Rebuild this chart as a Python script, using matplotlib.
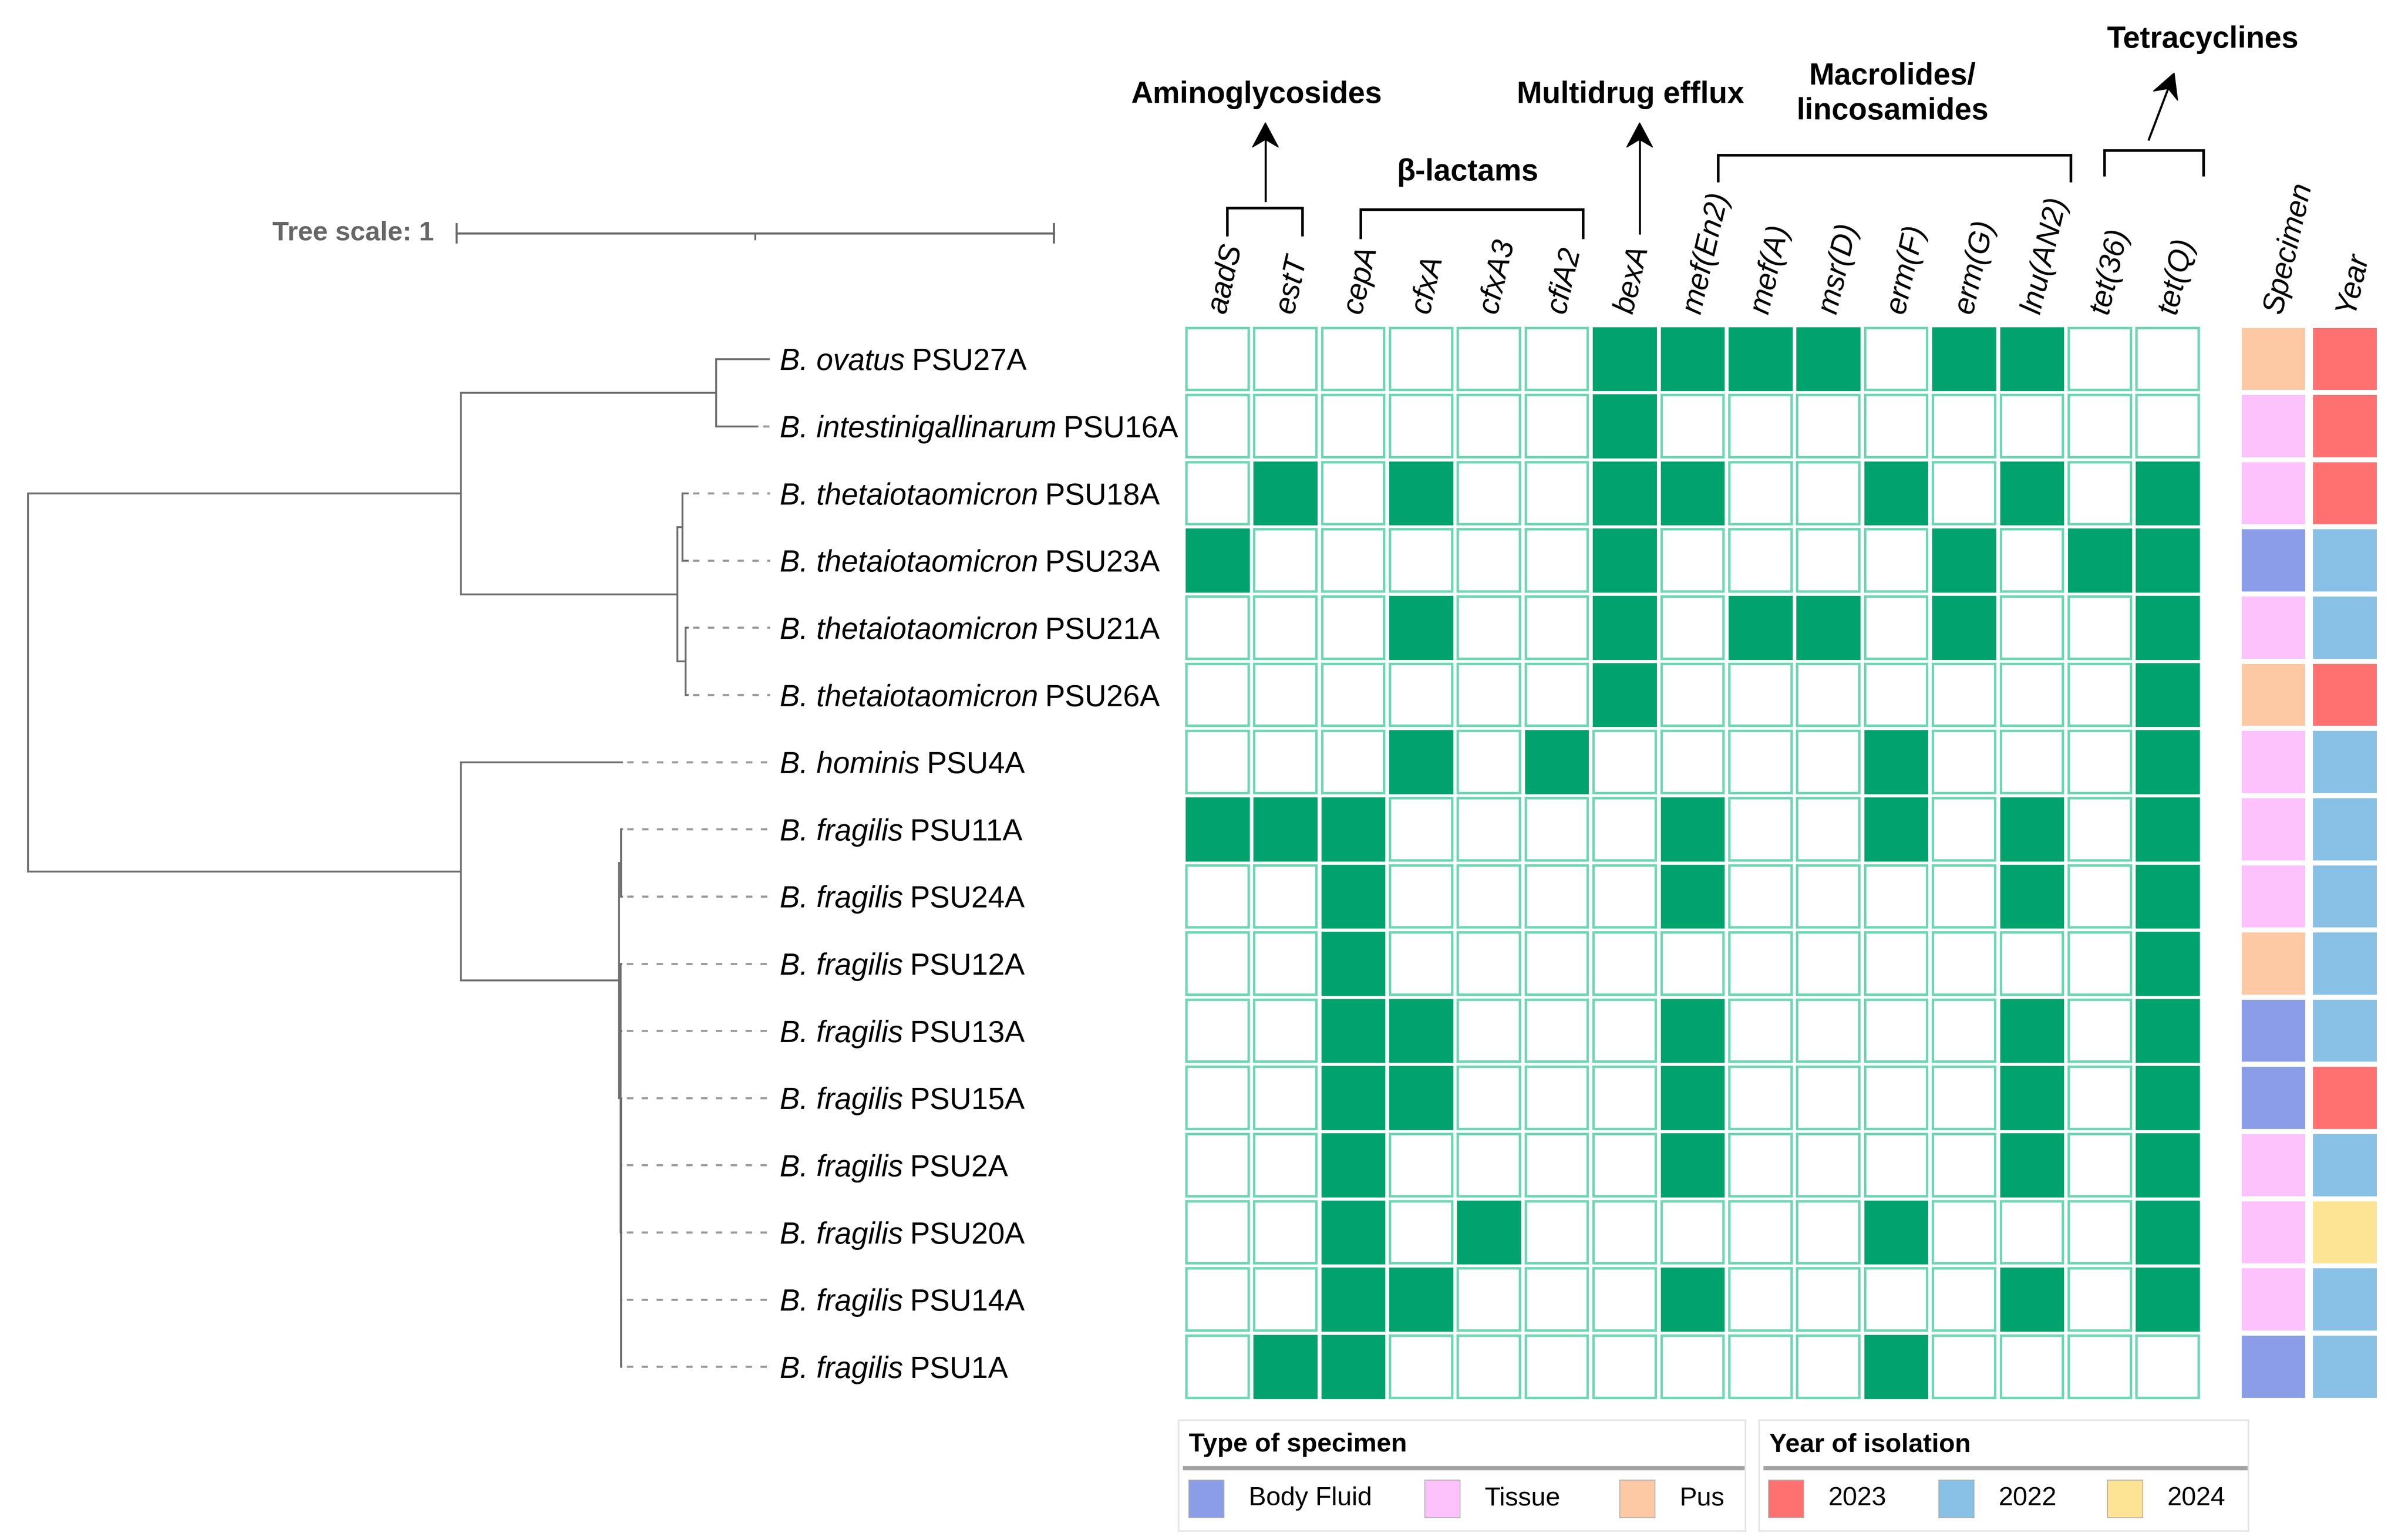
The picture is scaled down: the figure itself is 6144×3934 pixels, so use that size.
import math
import matplotlib
matplotlib.use('Agg')
import matplotlib.pyplot as plt
from matplotlib.patches import Rectangle, Polygon

plt.rcParams['font.family'] = ['Liberation Sans', 'DejaVu Sans']

# ---- data -----------------------------------------------------------------
genes = ['aadS', 'estT', 'cepA', 'cfxA', 'cfxA3', 'cfiA2', 'bexA', 'mef(En2)',
         'mef(A)', 'msr(D)', 'erm(F)', 'erm(G)', 'lnu(AN2)', 'tet(36)', 'tet(Q)']

strains = ['PSU27A', 'PSU16A', 'PSU18A', 'PSU23A', 'PSU21A', 'PSU26A', 'PSU4A',
           'PSU11A', 'PSU24A', 'PSU12A', 'PSU13A', 'PSU15A', 'PSU2A', 'PSU20A',
           'PSU14A', 'PSU1A']
species = ['B. ovatus', 'B. intestinigallinarum', 'B. thetaiotaomicron',
           'B. thetaiotaomicron', 'B. thetaiotaomicron', 'B. thetaiotaomicron',
           'B. hominis', 'B. fragilis', 'B. fragilis', 'B. fragilis', 'B. fragilis',
           'B. fragilis', 'B. fragilis', 'B. fragilis', 'B. fragilis', 'B. fragilis']

# gene presence, rows follow strains, columns follow genes
presence = [
    [0, 0, 0, 0, 0, 0, 1, 1, 1, 1, 0, 1, 1, 0, 0],
    [0, 0, 0, 0, 0, 0, 1, 0, 0, 0, 0, 0, 0, 0, 0],
    [0, 1, 0, 1, 0, 0, 1, 1, 0, 0, 1, 0, 1, 0, 1],
    [1, 0, 0, 0, 0, 0, 1, 0, 0, 0, 0, 1, 0, 1, 1],
    [0, 0, 0, 1, 0, 0, 1, 0, 1, 1, 0, 1, 0, 0, 1],
    [0, 0, 0, 0, 0, 0, 1, 0, 0, 0, 0, 0, 0, 0, 1],
    [0, 0, 0, 1, 0, 1, 0, 0, 0, 0, 1, 0, 0, 0, 1],
    [1, 1, 1, 0, 0, 0, 0, 1, 0, 0, 1, 0, 1, 0, 1],
    [0, 0, 1, 0, 0, 0, 0, 1, 0, 0, 0, 0, 1, 0, 1],
    [0, 0, 1, 0, 0, 0, 0, 0, 0, 0, 0, 0, 0, 0, 1],
    [0, 0, 1, 1, 0, 0, 0, 1, 0, 0, 0, 0, 1, 0, 1],
    [0, 0, 1, 1, 0, 0, 0, 1, 0, 0, 0, 0, 1, 0, 1],
    [0, 0, 1, 0, 0, 0, 0, 1, 0, 0, 0, 0, 1, 0, 1],
    [0, 0, 1, 0, 1, 0, 0, 0, 0, 0, 1, 0, 0, 0, 1],
    [0, 0, 1, 1, 0, 0, 0, 1, 0, 0, 0, 0, 1, 0, 1],
    [0, 1, 1, 0, 0, 0, 0, 0, 0, 0, 1, 0, 0, 0, 0],
]

specimen = ['Pus', 'Tissue', 'Tissue', 'Body Fluid', 'Tissue', 'Pus', 'Tissue',
            'Tissue', 'Tissue', 'Pus', 'Body Fluid', 'Body Fluid', 'Tissue',
            'Tissue', 'Tissue', 'Body Fluid']
year = ['2023', '2023', '2023', '2022', '2022', '2023', '2022', '2022', '2022',
        '2022', '2022', '2023', '2022', '2024', '2022', '2022']

specimen_types = ['Body Fluid', 'Tissue', 'Pus']
specimen_colors = ['#8a9de6', '#fdc1fb', '#fdc9a4']
years = ['2023', '2022', '2024']
year_colors = ['#ff7171', '#89c0e6', '#fde394']

# drug classes: (label, first gene, last gene)
drug_groups = [('Aminoglycosides', 'aadS', 'estT'),
               ('β-lactams', 'cepA', 'cfiA2'),
               ('Multidrug efflux', 'bexA', 'bexA'),
               ('Macrolides/\nlincosamides', 'mef(En2)', 'lnu(AN2)'),
               ('Tetracyclines', 'tet(36)', 'tet(Q)')]

# tree as (children or leaf, branch length)
tree = ([
    ([
        ([('PSU27A', 0.090), ('PSU16A', 0.071)], 0.427),
        ([
            ([('PSU18A', 0.010), ('PSU23A', 0.010)], 0.009),
            ([('PSU21A', 0.005), ('PSU26A', 0.005)], 0.014),
        ], 0.362),
    ], 0.725),
    ([
        ('PSU4A', 0.271),
        ([
            ([('PSU11A', 0.003), ('PSU24A', 0.003)], 0.003),
            ([
                ('PSU12A', 0.003),
                ('PSU13A', 0.003),
                ([('PSU15A', 0.002), ('PSU2A', 0.002), ('PSU20A', 0.002),
                  ('PSU14A', 0.002), ('PSU1A', 0.002)], 0.001),
            ], 0.002),
        ], 0.265),
    ], 0.725),
], 0.0)

# ---- layout (units: pixels of a 1568 wide canvas) -----------------------------
W, H = 1568, 1568 * 3934 / 6144
ROOT_X = 18.0
UNIT = 389.5          # pixels per tree unit
ALIGN_X = 502
LABEL_X = 508.5
ROW0, ROW_STEP, CELL_H = 234.0, 43.8, 40.5
COL0, COL_STEP, CELL_W = 773.5, 44.25, 40.5
META_X = [1461.5, 1508]
META_W = 41.5

GREEN = '#00a36d'
EDGE = '#6dd6b4'
TREE_C = '#6e6e6e'


def row_y(i):
    return ROW0 + i * ROW_STEP


def col_x(j):
    return COL0 + j * COL_STEP


fig = plt.figure(figsize=(6144 / 300, 3934 / 300), dpi=300)
ax = fig.add_axes([0, 0, 1, 1])
ax.set_xlim(0, W)
ax.set_ylim(H, 0)
ax.axis('off')


def arrow(start, tip, head_len=16, half_w=8.5, notch=11):
    # thin shaft with a notched (stealth) head
    dx, dy = tip[0] - start[0], tip[1] - start[1]
    L = math.hypot(dx, dy)
    ux, uy = dx / L, dy / L
    px, py = -uy, ux
    bx, by = tip[0] - ux * head_len, tip[1] - uy * head_len
    nx, ny = tip[0] - ux * notch, tip[1] - uy * notch
    ax.plot([start[0], nx], [start[1], ny], color='black', lw=1.3)
    ax.add_patch(Polygon([tip, (bx + px * half_w, by + py * half_w), (nx, ny),
                          (bx - px * half_w, by - py * half_w)],
                         closed=True, facecolor='black', edgecolor='black', lw=0.5))


# ---- tree ------------------------------------------------------------------
leaf_x = {}


def draw_node(node, x0):
    kids, bl = node
    x = x0 + bl * UNIT
    if isinstance(kids, str):
        y = row_y(strains.index(kids))
        ax.plot([x0, x], [y, y], color=TREE_C, lw=1.15, solid_capstyle='butt')
        leaf_x[kids] = x
        return y
    ys = [draw_node(k, x) for k in kids]
    y = (ys[0] + ys[-1]) / 2
    if bl > 0:
        ax.plot([x0, x], [y, y], color=TREE_C, lw=1.15, solid_capstyle='butt')
    ax.plot([x, x], [ys[0], ys[-1]], color=TREE_C, lw=1.15,
            solid_capstyle='projecting')
    return y


draw_node(tree, ROOT_X)

for s, x in leaf_x.items():
    y = row_y(strains.index(s))
    if ALIGN_X - x > 2:
        ax.plot([x + 3, ALIGN_X], [y, y], color='#9a9a9a', lw=1.3,
                linestyle=(0, (3, 4)))

# tree scale bar, one unit long
sx0, sy = 297.5, 152
ax.plot([sx0, sx0 + UNIT], [sy, sy], color='#666666', lw=1.3)
for tx in (sx0, sx0 + UNIT):
    ax.plot([tx, tx], [sy - 6, sy + 6], color='#666666', lw=1.3)
ax.plot([sx0 + UNIT / 2] * 2, [sy, sy + 4], color='#666666', lw=1.1)
ax.text(283, sy, 'Tree scale: 1', ha='right', va='center', fontsize=16.5,
        fontweight='bold', color='#666666')

# ---- leaf labels (italic species + roman strain id) -------------------------
renderer = fig.canvas.get_renderer()
inv = ax.transData.inverted()
for i, (sp, st) in enumerate(zip(species, strains)):
    y = row_y(i)
    t = ax.text(LABEL_X, y, sp, style='italic', fontsize=18.4,
                ha='left', va='center_baseline')
    bb = t.get_window_extent(renderer)
    x_end = inv.transform((bb.x1, bb.y0))[0]
    ax.text(x_end + 4.5, y, st, fontsize=18.4, ha='left', va='center_baseline')

# ---- gene presence matrix ----------------------------------------------------
for i, row in enumerate(presence):
    top = row_y(i) - CELL_H / 2
    for j, v in enumerate(row):
        if v:
            r = Rectangle((col_x(j), top), CELL_W, CELL_H, facecolor=GREEN,
                          edgecolor=GREEN, lw=1.2)
        else:
            r = Rectangle((col_x(j), top), CELL_W, CELL_H, facecolor='white',
                          edgecolor=EDGE, lw=1.5)
        ax.add_patch(r)
    sc = specimen_colors[specimen_types.index(specimen[i])]
    yc = year_colors[years.index(year[i])]
    ax.add_patch(Rectangle((META_X[0], top), META_W, CELL_H, facecolor=sc, lw=0))
    ax.add_patch(Rectangle((META_X[1], top), META_W, CELL_H, facecolor=yc, lw=0))

# column headers
for j, g in enumerate(genes):
    ax.text(col_x(j) + CELL_W / 2, 204, g, style='italic', fontsize=18.4,
            rotation=77, rotation_mode='anchor', ha='left', va='center')
for x, lab in zip(META_X, ['Specimen', 'Year']):
    ax.text(x + META_W / 2, 204, lab, style='italic', fontsize=18.4,
            rotation=77, rotation_mode='anchor', ha='left', va='center')

# ---- drug class brackets / arrows --------------------------------------------
# per group: bracket span (x0, x1), bracket y, leg bottom, label pos, arrow
group_layout = [
    dict(span=(800, 849), y=135.5, leg=153, label=(819, 62),
         arrow=((825, 131), (825, 80))),
    dict(span=(887, 1032), y=136.5, leg=155, label=(957, 112.5), arrow=None),
    dict(span=None, label=(1063, 62), arrow=((1069, 152), (1069, 80))),
    dict(span=(1120, 1350), y=101, leg=118, label=(1234, 49.9), arrow=None),
    dict(span=(1372, 1436.5), y=98, leg=114, label=(1436, 26),
         arrow=((1401, 91), (1417.5, 47.5))),
]
for (name, g0, g1), lay in zip(drug_groups, group_layout):
    if lay['span']:
        x0, x1 = lay['span']
        ax.plot([x0, x0, x1, x1], [lay['leg'], lay['y'], lay['y'], lay['leg']],
                color='black', lw=1.6, solid_joinstyle='miter')
    if lay['arrow']:
        arrow(*lay['arrow'])
    lx, ly = lay['label']
    for k, line in enumerate(name.split('\n')):
        ax.text(lx, ly + k * 22.8, line, ha='center', va='center',
                fontsize=18.6, fontweight='bold')

# ---- legends -------------------------------------------------------------------
legends = [
    dict(title='Type of specimen', names=specimen_types, colors=specimen_colors,
         box=(768.5, 1138), sw=[775, 929, 1056]),
    dict(title='Year of isolation', names=years, colors=year_colors,
         box=(1147, 1466), sw=[1153, 1264, 1374]),
]
for lg in legends:
    bx0, bx1 = lg['box']
    ax.add_patch(Rectangle((bx0, 926), bx1 - bx0, 72, facecolor='white',
                           edgecolor='#e6e6e6', lw=1.0))
    ax.text(bx0 + 6.5, 942, lg['title'], ha='left', va='center', fontsize=16,
            fontweight='bold')
    ax.plot([bx0 + 4, bx1 - 2], [957, 957], color='#a3a3a3', lw=2.6)
    for name, c, sx in zip(lg['names'], lg['colors'], lg['sw']):
        ax.add_patch(Rectangle((sx, 965), 23, 24.5, facecolor=c,
                               edgecolor='#b0b0b0', lw=0.5))
        ax.text(sx + 39, 977, name, ha='left', va='center', fontsize=16)

fig.savefig('out.png', dpi=300)
